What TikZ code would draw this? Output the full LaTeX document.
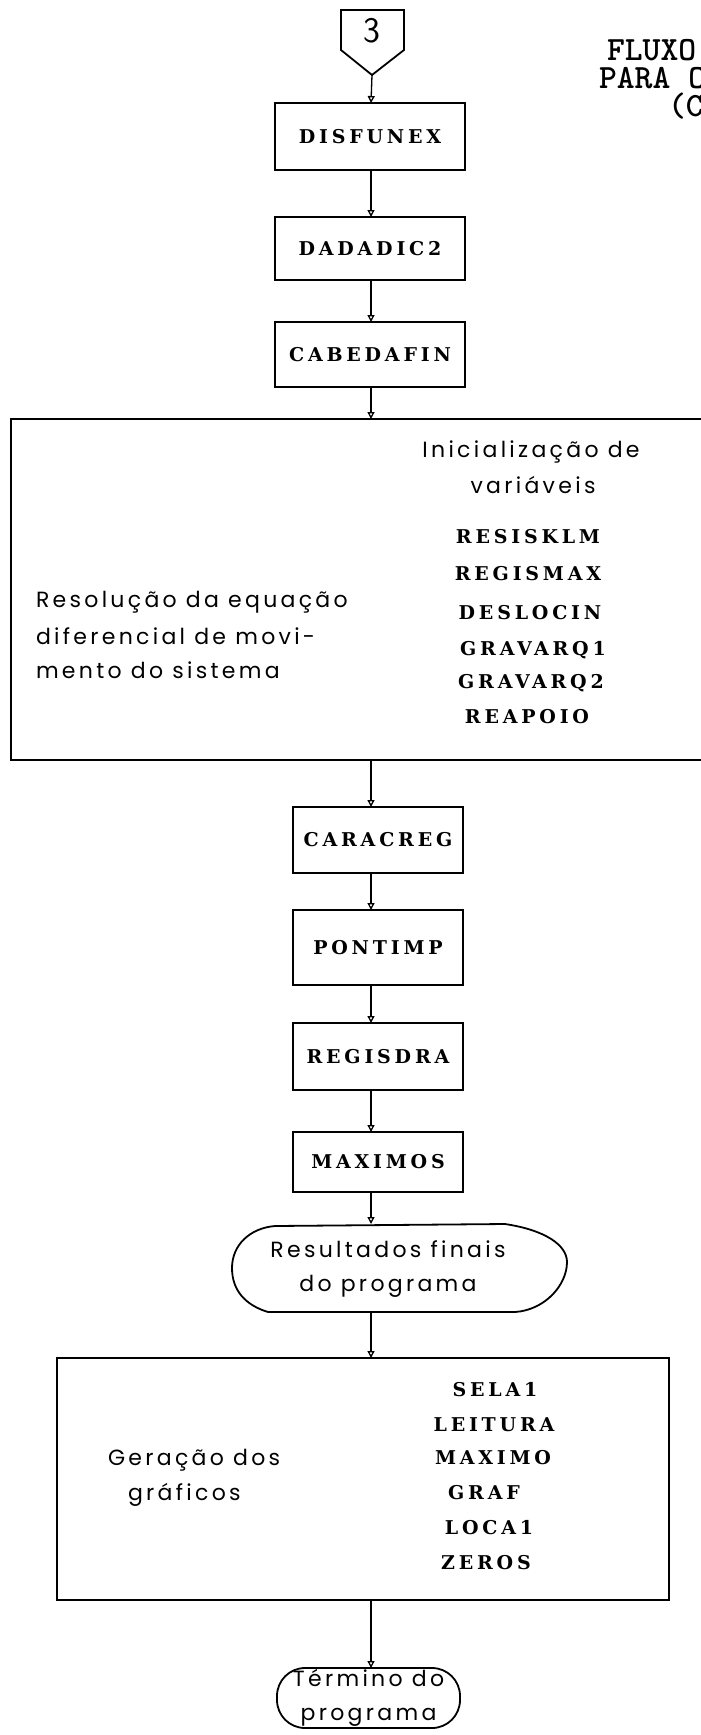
\documentclass[tikz,border=0pt]{standalone}
\usepackage{fontspec}
\usetikzlibrary{arrows.meta}
\newfontfamily\boxfont{DejaVu Serif}[LetterSpace=20]
\newfontfamily\plotfont{Poppins}[LetterSpace=15]
\begin{document}
\begin{tikzpicture}[x=1pt,y=-1pt,
  every node/.style={inner sep=0pt, outer sep=0pt},
  box/.style={draw, line width=1.8pt},
  edge/.style={line width=2.8pt},
  lbl/.style={font=\boxfont\bfseries\fontsize{19}{19}\selectfont},
  txt/.style={font=\plotfont\fontsize{22}{34}\selectfont},
  head/.style={font=\ttfamily\bfseries\fontsize{34}{34}\selectfont, anchor=west, text height=18pt, text depth=2pt},
  arr/.style={line width=1.3pt, -{Triangle[open,length=7pt,width=7pt]}}
]
\useasboundingbox (0,0) rectangle (701,1735);
\clip (0,0) rectangle (701,1735);
\coordinate (ax) at (371,0);

% off-page connector
\draw[line width=1.8pt] (341,10) -- (404,10) -- (404,50) -- (372,75) -- (341,50) -- cycle;
\coordinate (p3) at (372,75);
\node[font=\sffamily\fontsize{36}{36}\selectfont] (n3) at (372,31) {3};

% heading (cut off at the right edge)
\node[head] (h1) at (607,52) {FLUXO};
\node[head] (h2) at (599,80) {PARA O};
\node[head] (h3) at (668,108) {(C};

% top boxes
\node[box, lbl, minimum width=190pt, minimum height=67pt] (disf) at (370,136.5) {DISFUNEX};
\node[box, lbl, minimum width=190pt, minimum height=63pt] (dada) at (370,248.5) {DADADIC2};
\node[box, lbl, minimum width=190pt, minimum height=65pt] (cabe) at (370,354.5) {CABEDAFIN};

% big box 1
\node[box, minimum width=760pt, minimum height=341pt] (big1) at (391,589.5) {};
\draw[edge] (big1.north west) -- (big1.north east);
\draw[edge] (big1.south west) -- (big1.south east);
\node[txt] (ini1) at (531,452) {Inicialização de};
\node[txt] (ini2) at (533,485) {variáveis};
\node[lbl] (r1) at (528,537) {RESISKLM};
\node[lbl] (r2) at (528,574) {REGISMAX};
\node[lbl] (r3) at (530,613) {DESLOCIN};
\node[lbl] (r4) at (533,650) {GRAVARQ1};
\node[lbl] (r5) at (531,683) {GRAVARQ2};
\node[lbl] (r6) at (527,717) {REAPOIO};
\node[txt, anchor=west] (l1) at (36,602) {Resolução da equação};
\node[txt, anchor=west] (l2) at (36,636) {diferencial de movi-};
\node[txt, anchor=west] (l3) at (36,670) {mento do sistema};

% lower boxes
\node[box, lbl, minimum width=170pt, minimum height=66pt] (cara) at (378,840) {CARACREG};
\node[box, lbl, minimum width=170pt, minimum height=75pt] (pont) at (378,947.5) {PONTIMP};
\node[box, lbl, minimum width=170pt, minimum height=67pt] (regi) at (378,1056.5) {REGISDRA};
\node[box, lbl, minimum width=170pt, minimum height=60pt] (maxi) at (378,1162) {MAXIMOS};

% terminal "Resultados finais"
\draw[line width=1.8pt] (275,1226) -- (505,1224)
  .. controls (545,1230) and (567,1245) .. (567,1262)
  .. controls (567,1285) and (545,1310) .. (515,1312)
  -- (268,1312)
  .. controls (245,1305) and (232,1290) .. (232,1268)
  .. controls (232,1245) and (250,1228) .. (275,1226) -- cycle;
\coordinate (restop) at (371,1224);
\coordinate (resbot) at (371,1312);
\node[txt, align=center] (res) at (388,1269) {Resultados finais\\do programa};

% big box 2
\node[box, minimum width=612pt, minimum height=242pt] (gera) at (363,1479) {};
\draw[edge] (gera.north west) -- (gera.north east);
\draw[edge] (gera.south west) -- (gera.south east);
\node[txt, anchor=west] (g1) at (108,1460) {Geração dos};
\node[txt, anchor=west] (g2) at (128,1495) {gráficos};
\node[lbl] (s1) at (495,1390) {SELA1};
\node[lbl] (s2) at (494,1425) {LEITURA};
\node[lbl] (s3) at (493,1458) {MAXIMO};
\node[lbl] (s4) at (484,1493) {GRAF};
\node[lbl] (s5) at (489,1528) {LOCA1};
\node[lbl] (s6) at (486,1563) {ZEROS};

% end terminal
\node[draw, line width=1.8pt, rounded corners=28pt, minimum width=183pt, minimum height=60pt, align=center, txt] (term) at (368.5,1698) {Término do\\programa};

% connectors
\draw[arr] (p3) -- (disf.north -| ax);
\draw[arr] (disf.south -| ax) -- (dada.north -| ax);
\draw[arr] (dada.south -| ax) -- (cabe.north -| ax);
\draw[arr] (cabe.south -| ax) -- (big1.north -| ax);
\draw[arr] (big1.south -| ax) -- (cara.north -| ax);
\draw[arr] (cara.south -| ax) -- (pont.north -| ax);
\draw[arr] (pont.south -| ax) -- (regi.north -| ax);
\draw[arr] (regi.south -| ax) -- (maxi.north -| ax);
\draw[arr] (maxi.south -| ax) -- (restop);
\draw[arr] (resbot) -- (gera.north -| ax);
\draw[arr] (gera.south -| ax) -- (term.north -| ax);
\end{tikzpicture}
\end{document}
